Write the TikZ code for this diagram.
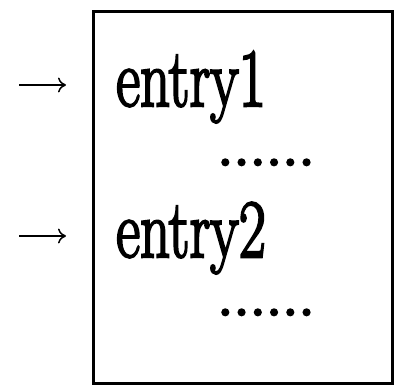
\documentclass[tikz,border=0pt]{standalone}
\usepackage{graphicx}
\usetikzlibrary{arrows.meta}
\newcommand{\thicktext}[2][2.2]{\special{pdf:literal direct 2 Tr #1 w}#2\special{pdf:literal direct 0 Tr}}
\begin{document}
\begin{tikzpicture}[x=1pt,y=1pt,
  entrytext/.style={anchor=base west,inner sep=0pt,font=\fontsize{70}{70}\selectfont},
  dotstext/.style={anchor=base west,inner sep=0pt,font=\fontsize{65}{65}\selectfont},
  entryarrow/.style={line width=1.5pt,-{To[length=8pt,width=15pt]}}]
\useasboundingbox (0,0) rectangle (400,-385);
\draw[line width=3pt] (93,-12) rectangle (392,-384);
\node[entrytext] (e1) at (116,-106) {\scalebox{0.84}[1.18]{\thicktext{entry1}}};
\node[dotstext] (d1) at (217,-165) {\thicktext[2.6]{......}};
\node[entrytext] (e2) at (116,-257) {\scalebox{0.84}[1.18]{\thicktext{entry2}}};
\node[dotstext] (d2) at (217,-315) {\thicktext[2.6]{......}};
\coordinate (s1) at (19,-85);
\coordinate (t1) at (66,-85);
\coordinate (s2) at (19,-236);
\coordinate (t2) at (66,-236);
\draw[entryarrow] (s1) -- (t1);
\draw[entryarrow] (s2) -- (t2);
\end{tikzpicture}
\end{document}
